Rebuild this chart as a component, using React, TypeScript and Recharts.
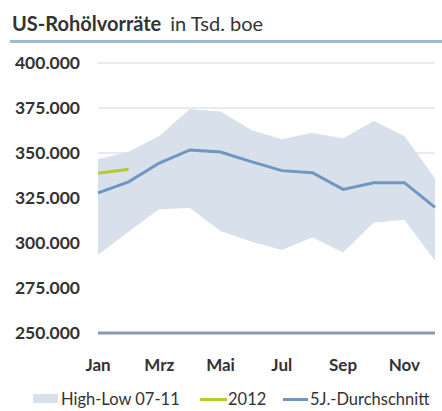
import { ComposedChart, Area, Line, XAxis, YAxis, CartesianGrid } from 'recharts'

// Monatswerte in Tsd. boe
const MONTHS = ['Jan', 'Feb', 'Mrz', 'Apr', 'Mai', 'Jun', 'Jul', 'Aug', 'Sep', 'Okt', 'Nov', 'Dez']
const HIGH = [346500, 350700, 359400, 374500, 373000, 362800, 357600, 361300, 358000, 367800, 359400, 336000]
const LOW = [293300, 306300, 318700, 319300, 306500, 300700, 296000, 303000, 294600, 311300, 312800, 290000]
const AVG_5J = [327800, 334000, 344400, 351700, 350500, 345200, 340200, 339000, 329800, 333500, 333500, 319800]
const Y2012 = [338700, 341000]
const Y_TICKS = [250000, 275000, 300000, 325000, 350000, 375000, 400000]

const BAND = '#d8e0eb'
const BLUE = '#7096c2'
const GREEN = '#b8c92c'
const FONT = 'Lato, "Open Sans", sans-serif'

const data = MONTHS.map((m, i) => ({
  month: m,
  low: LOW[i],
  range: [LOW[i], HIGH[i]],
  avg: AVG_5J[i],
  y2012: i < Y2012.length ? Y2012[i] : null,
}))

const fmt = (v: number) => `${Math.round(v / 1000)}.000`

export default function App() {
  return (
    <div style={{ position: 'absolute', left: 0, top: 0, width: 442, height: 411, background: '#fff', fontFamily: FONT, color: '#333' }}>
      <div style={{ position: 'absolute', left: 12, top: 11, fontSize: 20, whiteSpace: 'nowrap', lineHeight: '24px' }}>
        <span style={{ fontWeight: 700 }}>US-Rohölvorräte</span>
        <span style={{ marginLeft: 9 }}>in Tsd. boe</span>
      </div>
      <div style={{ position: 'absolute', left: 10, top: 40, width: 432, height: 3, background: '#9db7d6' }} />

      <div style={{ position: 'absolute', left: 0, top: 0 }}>
        <ComposedChart width={442} height={411} data={data} margin={{ top: 63, right: 7, bottom: 0, left: 0 }}>
          <CartesianGrid vertical={false} stroke="#dfe3ea" strokeWidth={1.5} />
          <Area dataKey="range" fill={BAND} fillOpacity={1} stroke="none" isAnimationActive={false} />
          <Area dataKey="low" fill="#ffffff" fillOpacity={1} stroke="none" baseValue={250000} isAnimationActive={false} />
          <Line dataKey="avg" stroke={BLUE} strokeWidth={3} dot={false} isAnimationActive={false} />
          <Line dataKey="y2012" stroke={GREEN} strokeWidth={3} dot={false} isAnimationActive={false} />
          <XAxis
            dataKey="month"
            interval={1}
            height={78}
            tickLine={false}
            tickMargin={20}
            axisLine={{ stroke: '#8a9ab2', strokeWidth: 3 }}
            tick={{ fill: '#333', fontSize: 17, fontWeight: 700, fontFamily: FONT }}
          />
          <YAxis
            domain={[250000, 400000]}
            ticks={Y_TICKS}
            width={98}
            axisLine={false}
            tickLine={false}
            tickMargin={12}
            tickFormatter={fmt}
            tick={{ fill: '#333', fontSize: 17.5, fontWeight: 700, fontFamily: FONT }}
          />
        </ComposedChart>
      </div>

      <div style={{ position: 'absolute', left: 0, top: 388, width: 442, height: 22, fontSize: 16.5, whiteSpace: 'nowrap', lineHeight: '22px' }}>
        <div style={{ position: 'absolute', left: 33, top: 6, width: 25, height: 9, background: BAND }} />
        <span style={{ position: 'absolute', left: 61, top: 0 }}>High-Low 07-11</span>
        <div style={{ position: 'absolute', left: 200, top: 10, width: 27, height: 3, background: GREEN }} />
        <span style={{ position: 'absolute', left: 228, top: 0 }}>2012</span>
        <div style={{ position: 'absolute', left: 283, top: 10, width: 25, height: 3, background: BLUE }} />
        <span style={{ position: 'absolute', left: 310, top: 0 }}>5J.-Durchschnitt</span>
      </div>
    </div>
  )
}
